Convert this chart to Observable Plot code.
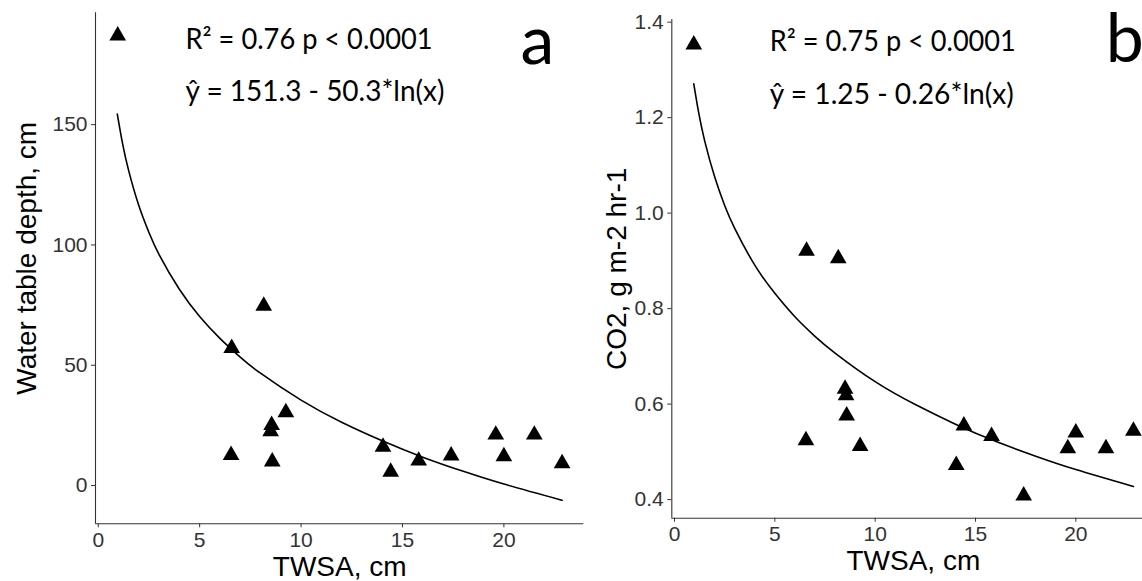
<!DOCTYPE html>
<html><head><meta charset="utf-8">
<script src="https://cdn.jsdelivr.net/npm/d3@7"></script>
<script src="https://cdn.jsdelivr.net/npm/@observablehq/plot@0.6"></script>
<style>
body{margin:0;background:#fff;overflow:hidden}
#wrap{position:relative;width:1142px;height:581px;overflow:hidden;background:#fff}
#wrap svg{position:absolute;top:0;max-width:none}
#wrap g[aria-label$="tick label"], #wrap g[aria-label$="tick label"] text{font-size:21px !important;font-family:Arial,'Liberation Sans',sans-serif !important;}
</style></head><body><div id="wrap"></div>
<script>
// Data
const twsa  = [0.96, 6.55, 6.58, 8.16, 8.5, 8.55, 8.58, 9.25, 14.04, 14.42, 15.8, 17.4, 19.6, 20.0, 21.5, 22.87];
const depth = [187.0, 12.6, 57.1, 74.7, 22.5, 25.1, 9.9, 30.4, 16.1, 5.7, 10.3, 12.4, 21.1, 12.1, 21.1, 9.2];
const co2   = [1.353, 0.524, 0.921, 0.905, 0.632, 0.618, 0.576, 0.512, 0.472, 0.555, 0.533, 0.408, 0.507, 0.540, 0.507, 0.544];

// fitted curves
const fitXA = [0.94, 1.2, 1.5, 2, 2.5, 3, 4, 5, 6, 7, 8, 10, 12, 14, 16, 18, 20, 22.87];
const fitYA = [154.4, 142.1, 130.9, 116.4, 105.2, 96.0, 81.6, 70.3, 61.2, 53.4, 46.7, 35.5, 26.3, 18.6, 11.8, 5.9, 0.6, -6.1];
const fitXB = [0.96, 1.2, 1.5, 2, 2.5, 3, 4, 5, 6, 7, 8, 10, 12, 14, 16, 18, 20, 22.87];
const fitYB = [1.271, 1.2115, 1.152, 1.076, 1.016, 0.968, 0.891, 0.832, 0.783, 0.742, 0.707, 0.647, 0.599, 0.558, 0.522, 0.491, 0.463, 0.4275];

const xTicks  = [0, 5, 10, 15, 20];
const yTicksA = [0, 50, 100, 150];
const yTicksB = [0.4, 0.6, 0.8, 1.0, 1.2, 1.4];
const xDomain  = [-0.135, 23.94];
const yDomainA = [-15.9, 196.5];
const yDomainB = [0.361, 1.4056];

const xLabel  = "TWSA, cm";
const yLabelA = "Water table depth, cm";
const yLabelB = "CO2, g m-2 hr-1";
const annA = ["R² = 0.76 p < 0.0001", "ŷ = 151.3 - 50.3*ln(x)"];
const annB = ["R² = 0.75 p < 0.0001", "ŷ = 1.25 - 0.26*ln(x)"];
const letters = ["a", "b"];

const AXIS_FONT = "Arial, 'Liberation Sans', Helvetica, sans-serif";
const ANN_FONT = "Lato, 'Open Sans', sans-serif";

function panel(o) {
  const pts = twsa.map((x, i) => ({x, y: o.ys[i]}));
  const fit = o.fx.map((x, i) => ({x, y: o.fy[i]}));
  const svg = Plot.plot({
    width: o.width, height: 581,
    marginLeft: o.ml, marginRight: o.mr, marginTop: o.mt, marginBottom: o.mb,
    style: {fontFamily: AXIS_FONT, fontSize: "21px", background: "transparent", maxWidth: "none", overflow: "visible"},
    x: {domain: xDomain},
    y: {domain: o.yDomain},
    marks: [
      Plot.ruleX([xDomain[0]], {stroke: "#333", strokeWidth: 1.1}),
      Plot.ruleY([o.yDomain[0]], {stroke: "#333", strokeWidth: 1.1}),
      Plot.axisX({ticks: xTicks, tickSize: 4, tickPadding: 4, fontSize: 21, color: "#333", label: null}),
      Plot.axisY({ticks: o.yTicks, tickFormat: o.fmt, tickSize: 4, tickPadding: 4, fontSize: 21, color: "#333", label: null}),
      Plot.line(fit, {x: "x", y: "y", curve: "natural", stroke: "black", strokeWidth: 1.6}),
      Plot.dot(pts, {x: "x", y: "y", symbol: "triangle", r: 6.2, fill: "black", stroke: "none"}),
      Plot.text([o.ann[0]], {text: d => d, frameAnchor: "top-left", textAnchor: "start", lineAnchor: "bottom", dx: o.annDx, dy: o.annDy[0], fontSize: 28, fontFamily: ANN_FONT, fill: "black"}),
      Plot.text([o.ann[1]], {text: d => d, frameAnchor: "top-left", textAnchor: "start", lineAnchor: "bottom", dx: o.annDx, dy: o.annDy[1], fontSize: 28, fontFamily: ANN_FONT, fill: "black"}),
      Plot.text([o.letter], {text: d => d, frameAnchor: "top-left", textAnchor: "start", lineAnchor: "bottom", dx: o.letDx, dy: o.letDy, fontSize: 68, fontFamily: ANN_FONT, fill: "black"}),
      Plot.text([o.yLabel], {text: d => d, frameAnchor: "left", textAnchor: "middle", lineAnchor: "bottom", rotate: -90, dx: o.ylDx, dy: o.ylDy, fontSize: 28, fontFamily: AXIS_FONT, fill: "black"}),
      Plot.text([xLabel], {text: d => d, frameAnchor: "bottom", textAnchor: "middle", lineAnchor: "bottom", dx: 0, dy: o.xlDy, fontSize: 28, fontFamily: AXIS_FONT, fill: "black"})
    ]
  });
  // fit annotation widths to the reference
  svg.querySelectorAll("text").forEach(t => {
    const i = o.ann.indexOf(t.textContent);
    if (i >= 0) { t.setAttribute("textLength", o.annLen[i]); t.setAttribute("lengthAdjust", "spacingAndGlyphs"); }
  });
  svg.style.left = o.left + "px";
  return svg;
}

const wrap = document.getElementById("wrap");
wrap.appendChild(panel({
  left: 0, width: 590, ml: 95, mr: 6.7, mt: 12.3, mb: 57.7,
  yDomain: yDomainA, yTicks: yTicksA, fmt: d3.format("d"), ys: depth, fx: fitXA, fy: fitYA,
  ann: annA, annLen: [247, 259], annDx: 90, annDy: [36, 88], letter: letters[0], letDx: 425, letDy: 51,
  yLabel: yLabelA, ylDx: -60, ylDy: -10, xlDy: 52.2
}));
wrap.appendChild(panel({
  left: 575, width: 585, ml: 96.3, mr: 5.6, mt: 19, mb: 63.3,
  yDomain: yDomainB, yTicks: yTicksB, fmt: d3.format(".1f"), ys: co2, fx: fitXB, fy: fitYB,
  ann: annB, annLen: [246, 244], annDx: 98, annDy: [31, 84], letter: letters[1], letDx: 434, letDy: 42.7,
  yLabel: yLabelB, ylDx: -46.3, ylDy: 0, xlDy: 51.3
}));
</script></body></html>
